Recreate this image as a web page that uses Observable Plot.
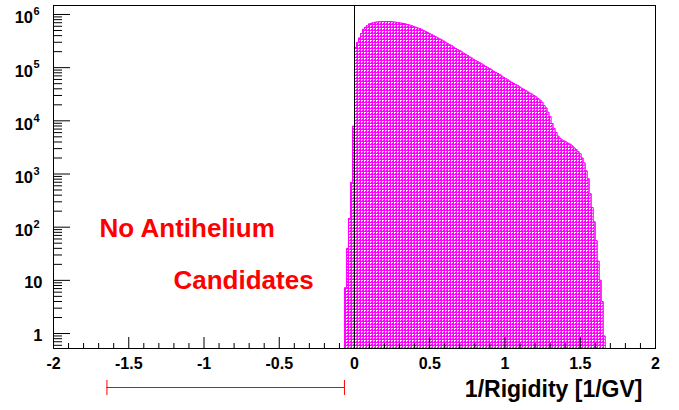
<!DOCTYPE html>
<html>
<head>
<meta charset="utf-8">
<script src="https://cdn.jsdelivr.net/npm/d3@7"></script>
<script src="https://cdn.jsdelivr.net/npm/@observablehq/plot@0.6"></script>
<style>
  html, body { margin: 0; padding: 0; background: white; }
  svg { display: block; }
</style>
</head>
<body>
<div id="chart"></div>
<script>
// Histogram: 1/Rigidity, bins of width 1/75 GV^-1 starting at -1/15
const binStart = -1 / 15;
const binWidth = 1 / 75;
const counts = [
  7.2, 40, 145, 690, 7900,
  240000, 295000, 363000, 437000, 525000, 575000, 617000, 661000, 684000, 700000,
  711000, 719000, 726000, 729000, 733000, 735000, 735000, 733000, 729000, 724000,
  716000, 708000, 697000, 685000, 676000, 661000, 646000, 631000, 617000, 596000,
  575000, 556000, 543000, 525000, 501000, 479000, 457000, 437000, 417000, 398000,
  380000, 363000, 347000, 331000, 316000, 299000, 282000, 269000, 257000, 243000,
  229000, 219000, 209000, 197000, 186000, 178000, 168000, 158000, 151000, 143000,
  135000, 129000, 123000, 117000, 111000, 105000, 100000, 95500, 90200, 85100,
  81300, 77600, 73300, 69200, 65300, 61700, 58900, 55600, 52500, 50100,
  47900, 45700, 43200, 40700, 38900, 36700, 34700, 33100, 31600, 29900,
  28200, 26300, 24500, 22400, 19500, 17400, 14500, 12000, 8900, 7240,
  6030, 5130, 4680, 4370, 4170, 3980, 3800, 3630, 3390, 3090,
  2880, 2630, 2400, 2000, 1620, 1150, 813, 427, 234, 126,
  56, 23, 10, 4, 0.9
];

// Axes
const xDomain = [-2, 2];
const yDomain = [0.523, 1.475e6];
const xMajorTicks = [-2, -1.5, -1, -0.5, 0, 0.5, 1, 1.5, 2];
const xTickLabels = ["-2", "-1.5", "-1", "-0.5", "0", "0.5", "1", "1.5", "2"];
const xMinorTicks = [-1.9, -1.8, -1.7, -1.6, -1.4, -1.3, -1.2, -1.1, -0.9, -0.8, -0.7, -0.6,
  -0.4, -0.3, -0.2, -0.1, 0.1, 0.2, 0.3, 0.4, 0.6, 0.7, 0.8, 0.9,
  1.1, 1.2, 1.3, 1.4, 1.6, 1.7, 1.8, 1.9];
const yPlainTicks = [1, 10];
const yPlainLabels = ["1", "10"];
const yPowTicks = [100, 1000, 1e4, 1e5, 1e6];
const yPowBase = ["10", "10", "10", "10", "10"];
const yPowExp = ["2", "3", "4", "5", "6"];
const yMinorTicks = [0.6, 0.7, 0.8, 0.9,
  2, 3, 4, 5, 6, 7, 8, 9,
  20, 30, 40, 50, 60, 70, 80, 90,
  200, 300, 400, 500, 600, 700, 800, 900,
  2000, 3000, 4000, 5000, 6000, 7000, 8000, 9000,
  2e4, 3e4, 4e4, 5e4, 6e4, 7e4, 8e4, 9e4,
  2e5, 3e5, 4e5, 5e5, 6e5, 7e5, 8e5, 9e5];
const xTitle = "1/Rigidity [1/GV]";

// Annotations
const notes = [
  {x: -1.694, y: 95, text: "No Antihelium"},
  {x: -1.203, y: 10.0, text: "Candidates"}
];
const rangeBar = {lo: -1.645, hi: -1 / 15, y: 0.0966, capLo: 0.0684, capHi: 0.131};

const W = 679, H = 410;
const mL = 53, mR = 24, mT = 5, mB = 62;
const frameW = W - mL - mR, frameH = H - mT - mB;

const rows = counts.map((n, i) => ({x: binStart + i * binWidth, n}));
const xEnd = binStart + counts.length * binWidth;
rows.push({x: xEnd, n: counts[counts.length - 1]});
const outline = [{x: binStart, n: yDomain[0]}, ...rows, {x: xEnd, n: yDomain[0]}];

const MAG = "#ff00ff";
const HATCH_KEY = "#fe01fe";
const FONT = "'Liberation Sans', Arial, Helvetica, sans-serif";
const bold = {fontWeight: "bold", fill: "black"};

const chart = Plot.plot({
  width: W, height: H,
  marginLeft: mL, marginRight: mR, marginTop: mT, marginBottom: mB,
  style: {fontFamily: FONT, background: "white", overflow: "visible"},
  x: {domain: xDomain, axis: null},
  y: {type: "log", domain: yDomain, axis: null},
  marks: [
    Plot.areaY(rows, {x: "x", y1: yDomain[0], y2: "n", curve: "step-after", fill: HATCH_KEY}),
    Plot.lineY(outline, {x: "x", y: "n", curve: "step-after", stroke: MAG, strokeWidth: 1}),
    Plot.frame({stroke: "black", strokeWidth: 1}),
    // x ticks (inside, from bottom)
    Plot.ruleX(xMajorTicks, {x: d => d, insetTop: frameH - 11, stroke: "black"}),
    Plot.ruleX(xMinorTicks, {x: d => d, insetTop: frameH - 5, stroke: "black"}),
    // y ticks (inside, from left)
    Plot.ruleY([...yPlainTicks, ...yPowTicks], {y: d => d, insetRight: frameW - 17, stroke: "black"}),
    Plot.ruleY(yMinorTicks, {y: d => d, insetRight: frameW - 9, stroke: "black"}),
    // zero line
    Plot.ruleX([0], {stroke: "black", strokeWidth: 1}),
    // x tick labels
    Plot.text(xMajorTicks, {x: d => d, frameAnchor: "bottom", dy: 15, text: (d, i) => xTickLabels[i],
      fontSize: 16, ...bold, lineAnchor: "middle"}),
    // y tick labels
    Plot.text(yPlainTicks, {y: d => d, frameAnchor: "left", text: (d, i) => yPlainLabels[i],
      dx: -11, dy: 2, fontSize: 16.5, ...bold, textAnchor: "end", lineAnchor: "middle"}),
    Plot.text(yPowTicks, {y: d => d, frameAnchor: "left", text: (d, i) => yPowBase[i],
      dx: -20.5, dy: 3.6, fontSize: 16.5, ...bold, textAnchor: "end", lineAnchor: "middle"}),
    Plot.text(yPowTicks, {y: d => d, frameAnchor: "left", text: (d, i) => yPowExp[i],
      dx: -20, dy: -2.8, fontSize: 11, ...bold, textAnchor: "start", lineAnchor: "middle"}),
    // x axis title
    Plot.text([xTitle], {frameAnchor: "bottom-right", text: d => d, dx: -13, dy: 41,
      fontSize: 23, ...bold, textAnchor: "end", lineAnchor: "middle"}),
    // annotations
    Plot.text(notes, {x: "x", y: "y", text: "text", fontSize: 26, fontWeight: "bold", fill: "#ff0000",
      textAnchor: "start", lineAnchor: "middle"}),
    Plot.ruleY([rangeBar], {y: "y", x1: "lo", x2: "hi", stroke: "#ff0000", strokeWidth: 1}),
    Plot.ruleX([rangeBar.lo, rangeBar.hi], {x: d => d, y1: rangeBar.capLo, y2: rangeBar.capHi,
      stroke: "#ff0000", strokeWidth: 1})
  ]
});

// Crosshatch fill pattern for the histogram
const ns = "http://www.w3.org/2000/svg";
const defs = document.createElementNS(ns, "defs");
defs.innerHTML = `<pattern id="hatch" x="0" y="0" width="3" height="3" patternUnits="userSpaceOnUse">
  <rect width="3" height="3" fill="${MAG}" shape-rendering="crispEdges"/>
  <rect x="1" y="1" width="1" height="1" fill="white" shape-rendering="crispEdges"/>
  <rect x="2" y="1" width="1" height="1" fill="#ffd0ff" shape-rendering="crispEdges"/>
  <rect x="1" y="2" width="1" height="1" fill="#ffd0ff" shape-rendering="crispEdges"/>
</pattern>`;
chart.insertBefore(defs, chart.firstChild);
chart.querySelectorAll(`[fill="${HATCH_KEY}"]`).forEach(el => el.setAttribute("fill", "url(#hatch)"));

document.getElementById("chart").appendChild(chart);
</script>
</body>
</html>
